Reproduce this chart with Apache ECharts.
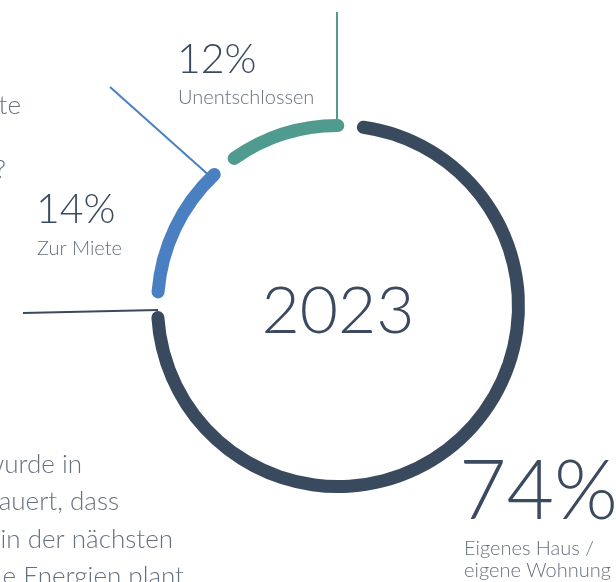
<!DOCTYPE html>
<html>
<head>
<meta charset="utf-8">
<script src="https://cdn.jsdelivr.net/npm/echarts@6/dist/echarts.min.js"></script>
<style>
  html, body { margin: 0; padding: 0; background: #fff; }
</style>
</head>
<body>
<div id="chart" style="width:616px;height:582px"></div>
<script>
// Wohnsituation 2023
var categories = ['Eigenes Haus /\neigene Wohnung', 'Zur Miete', 'Unentschlossen'];
var values = [74, 14, 12];
var colors = ['#394a5f', '#4a7fc1', '#4f9b8f'];
var yearLabel = '2023';

// abgeschnittener Fließtext am linken Rand
var sideLines = [
  { text: 'te', right: 21, y: 106 },
  { text: '?', right: 6, y: 170 },
  { text: 'wurde in', right: 82, y: 465 },
  { text: 'dauert, dass', right: 119, y: 502 },
  { text: 'in der nächsten', right: 173, y: 540 },
  { text: 'e Energien plant', right: 184, y: 577 }
];

var font = 'Lato, "Open Sans", sans-serif';
var dark = '#3b4a5f';
var grey = '#66717f';

var chartDOM = document.getElementById('chart');
var chart = echarts.init(chartDOM, null, { renderer: 'canvas' });

var graphics = [];
sideLines.forEach(function (l) {
  graphics.push({
    type: 'text', x: l.right, y: l.y,
    style: { text: l.text, font: '300 26px ' + font, fill: grey, textAlign: 'right', textVerticalAlign: 'middle' }
  });
});

// leader lines
graphics.push({ type: 'line', shape: { x1: 337, y1: 12, x2: 337, y2: 128 }, style: { stroke: colors[2], lineWidth: 2 } });
graphics.push({ type: 'line', shape: { x1: 110, y1: 87, x2: 212, y2: 178 }, style: { stroke: colors[1], lineWidth: 2 } });
graphics.push({ type: 'line', shape: { x1: 23, y1: 313, x2: 158, y2: 310 }, style: { stroke: colors[0], lineWidth: 2 } });

// labels
var labelPos = [
  { x: 459, y: 493, size: 82, sub: 560 },
  { x: 36, y: 210, size: 41, sub: 249 },
  { x: 177, y: 60, size: 41, sub: 98 }
];
values.forEach(function (v, i) {
  var p = labelPos[i];
  graphics.push({
    type: 'text', x: p.x, y: p.y,
    style: { text: v + '%', font: '300 ' + p.size + 'px ' + font, fill: dark, textVerticalAlign: 'middle' }
  });
  graphics.push({
    type: 'text', x: p.x + (i === 0 ? 5 : 1), y: p.sub,
    style: { text: categories[i], font: '300 20px ' + font, fill: grey, textVerticalAlign: 'middle', lineHeight: 22 }
  });
});

graphics.push({
  type: 'text', x: 338, y: 312,
  style: { text: yearLabel, font: '300 66px ' + font, fill: dark, textAlign: 'center', textVerticalAlign: 'middle' }
});

var option = {
  animation: false,
  series: [{
    type: 'pie',
    center: [338, 306],
    radius: [174, 187],
    startAngle: 86,
    padAngle: 4,
    silent: true,
    label: { show: false },
    labelLine: { show: false },
    itemStyle: { borderRadius: 7 },
    data: values.map(function (v, i) {
      return { name: categories[i], value: v, itemStyle: { color: colors[i] } };
    })
  }],
  graphic: graphics
};
chart.setOption(option);
</script>
</body>
</html>
